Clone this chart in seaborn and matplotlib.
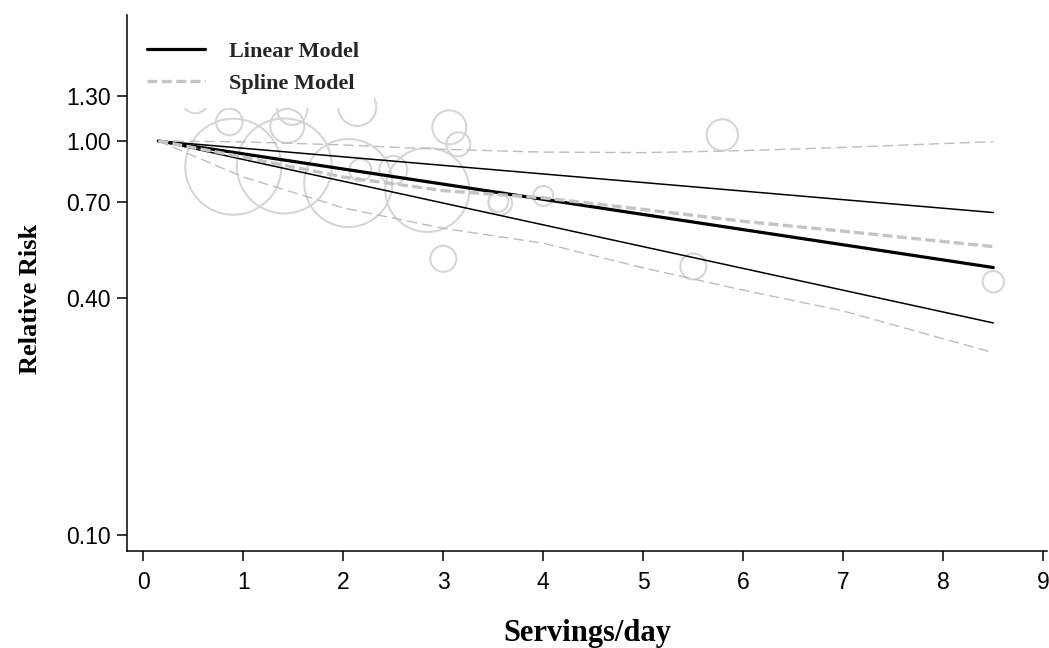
import numpy as np
import pandas as pd
import matplotlib
matplotlib.use("Agg")
import matplotlib.pyplot as plt
import seaborn as sns

# Pooled dose-response estimates (relative risk vs. servings/day)
linear_x = [0.15, 8.5]
linear_rr = [1.0, 0.477]
linear_lo = [1.0, 0.345]
linear_hi = [1.0, 0.658]

spline_x = [0.15, 1.0, 2.0, 3.0, 4.0, 5.0, 6.0, 7.0, 8.5]
spline_rr = [1.0, 0.91, 0.81, 0.748, 0.717, 0.67, 0.625, 0.59, 0.539]
spline_lo = [1.0, 0.81, 0.676, 0.60, 0.55, 0.476, 0.418, 0.37, 0.29]
spline_hi = [1.0, 0.995, 0.977, 0.952, 0.937, 0.934, 0.945, 0.963, 0.996]

# Study-level estimates; bubble area proportional to study weight
study_x = [0.52, 0.86, 0.90, 1.41, 1.49, 1.44, 2.14, 2.05, 2.17, 2.50,
           2.84, 3.06, 3.15, 3.00, 3.57, 3.55, 4.00, 5.50, 5.79, 8.50]
study_rr = [1.271, 1.118, 0.860, 0.864, 1.199, 1.092, 1.220, 0.782, 0.844, 0.844,
            0.751, 1.083, 0.981, 0.502, 0.695, 0.701, 0.725, 0.480, 1.036, 0.439]
study_w = [177, 177, 2304, 2256, 225, 289, 361, 1936, 121, 196,
           1764, 289, 144, 169, 137, 100, 100, 169, 246, 114]

y_ticks = [0.10, 0.40, 0.70, 1.00, 1.30]
y_tick_labels = ["0.10", "0.40", "0.70", "1.00", "1.30"]
x_ticks = list(range(0, 10))

DPI = 100
sns.set_theme(style="white")
plt.rcParams["font.family"] = ["Liberation Sans", "DejaVu Sans"]

fig = plt.figure(figsize=(10.49, 6.48), dpi=DPI)
W, H = 1049, 648
ax = fig.add_axes([127 / W, 97 / H, 920 / W, 536 / H])

studies = pd.DataFrame({"servings": study_x, "rr": study_rr, "weight": study_w})
linear = pd.DataFrame({"servings": linear_x, "rr": linear_rr,
                       "lo": linear_lo, "hi": linear_hi})
spline = pd.DataFrame({"servings": spline_x, "rr": spline_rr,
                       "lo": spline_lo, "hi": spline_hi})

# bubble size: 1 weight unit = 1 px^2 of radius^2
pt_per_px = 72.0 / DPI
wmax = max(study_w)
smax = (2 * np.sqrt(wmax) * pt_per_px) ** 2
sns.scatterplot(data=studies, x="servings", y="rr", size="weight",
                sizes=(0, smax), size_norm=(0, wmax), legend=False,
                color="#d6d6d6", facecolor="none", edgecolor="#d6d6d6",
                linewidth=1.5, ax=ax, zorder=1)

# linear model with confidence band
sns.lineplot(data=linear, x="servings", y="rr", color="black", lw=2.3,
             label="Linear Model", ax=ax, zorder=3)
for col in ["lo", "hi"]:
    sns.lineplot(data=linear, x="servings", y=col, color="black", lw=1.1,
                 ax=ax, zorder=3, legend=False)

# spline model with confidence band
for col in ["lo", "hi"]:
    sns.lineplot(data=spline, x="servings", y=col, color="#bdbdbd", lw=1.0,
                 linestyle=(0, (7.5, 3.6)), ax=ax, zorder=4, legend=False)
sns.lineplot(data=spline, x="servings", y="rr", color="#c4c4c4", lw=2.4,
             linestyle=(0, (3.0, 1.3)), label="Spline Model", ax=ax, zorder=4)

ax.set_yscale("log")
ax.set_xlim(-0.163, 9.037)
ax.set_ylim(0.0909, 2.089)
ax.set_yticks(y_ticks)
ax.set_yticklabels(y_tick_labels)
ax.yaxis.set_minor_locator(matplotlib.ticker.NullLocator())
ax.set_xticks(x_ticks)
ax.set_xticklabels([str(v) for v in x_ticks])

sns.despine(ax=ax)
for side in ["left", "bottom"]:
    ax.spines[side].set_color("black")
    ax.spines[side].set_linewidth(1.1)
ax.tick_params(axis="both", which="major", direction="out", length=7.5,
               width=1.1, color="black", labelsize=16.5, labelcolor="black",
               left=True, bottom=True)
ax.tick_params(axis="y", pad=4)
ax.tick_params(axis="x", pad=7)

ax.set_xlabel("Servings/day", family="Liberation Serif", weight="bold",
              size=22, color="black")
ax.set_ylabel("Relative Risk", family="Liberation Serif", weight="bold",
              size=19, color="black")
ax.xaxis.set_label_coords(0.5, -0.153)
ax.xaxis.label.set_va("center")
ax.yaxis.set_label_coords(-0.105, 0.471)
ax.yaxis.label.set_va("center")

# legend box sits on a white panel that masks the bubbles underneath
leg = ax.legend(loc="lower left", bbox_to_anchor=(0.006, 0.8265), frameon=True,
                facecolor="white", edgecolor="white", framealpha=1.0,
                prop=dict(family="Liberation Serif", weight="bold", size=16),
                handlelength=2.6, handletextpad=1.1, labelspacing=0.5,
                borderpad=0.65, borderaxespad=0.0)
leg.get_frame().set_linewidth(0)

ax.grid(False)
fig.savefig("out.png", dpi=DPI, facecolor="white")
